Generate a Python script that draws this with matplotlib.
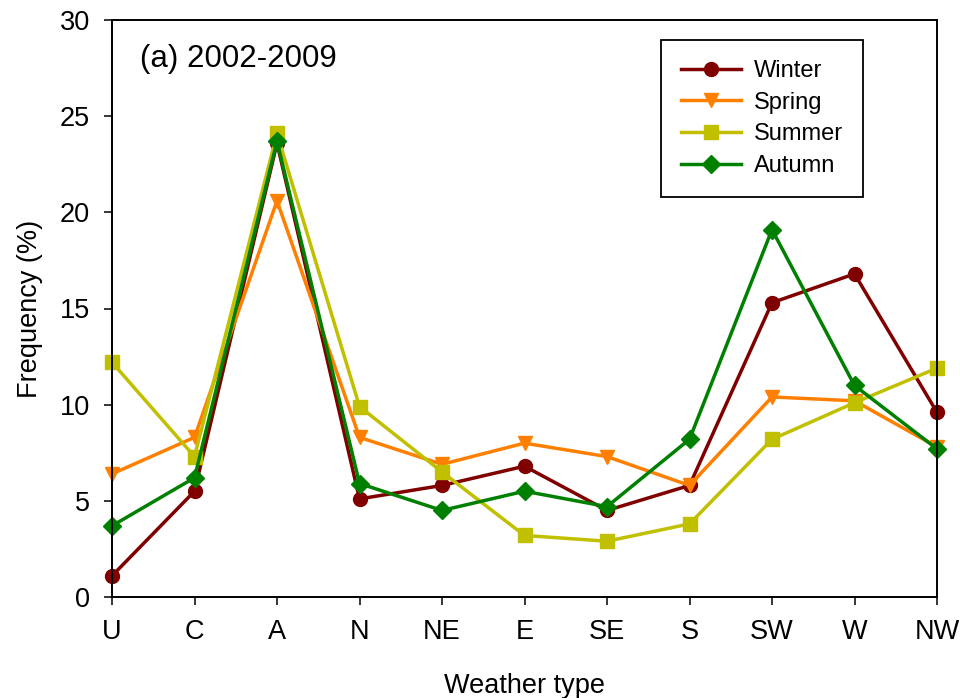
import numpy as np
import matplotlib
matplotlib.use("Agg")
import matplotlib.pyplot as plt

plt.rcParams['font.family'] = ['Liberation Sans', 'DejaVu Sans']

types = ["U", "C", "A", "N", "NE", "E", "SE", "S", "SW", "W", "NW"]
winter = [1.1, 5.5, 23.6, 5.1, 5.8, 6.8, 4.5, 5.8, 15.3, 16.8, 9.6]
spring = [6.4, 8.3, 20.6, 8.3, 6.9, 8.0, 7.3, 5.8, 10.4, 10.2, 7.8]
summer = [12.2, 7.3, 24.1, 9.9, 6.5, 3.2, 2.9, 3.8, 8.2, 10.1, 11.9]
autumn = [3.7, 6.2, 23.7, 5.9, 4.5, 5.5, 4.7, 8.2, 19.1, 11.0, 7.7]

seasons = ["Winter", "Spring", "Summer", "Autumn"]
colors = ["#800000", "#FF8000", "#C0C000", "#008000"]
markers = ["o", "v", "s", "D"]
msizes = [10, 10.5, 9.5, 9.5]

fig = plt.figure(figsize=(9.6, 6.98), dpi=100)
ax = fig.add_axes([112/960, 1-597/698, 825/960, 577/698])

x = np.arange(len(types))
for vals, name, c, m, ms in zip([winter, spring, summer, autumn], seasons, colors, markers, msizes):
    ax.plot(x, vals, color=c, marker=m, markersize=ms, linewidth=2.5,
            label=name, clip_on=False)

ax.set_xlim(0, len(types) - 1)
ax.set_ylim(0, 30)
ax.set_xticks(x)
ax.set_xticklabels(types)
ax.set_yticks(range(0, 31, 5))
ax.tick_params(direction='out', length=6, width=1.1, labelsize=19.5, pad=10)
for s in ax.spines.values():
    s.set_linewidth(1.4)

ax.set_xlabel("Weather type", fontsize=19.5, labelpad=20)
ax.set_ylabel("Frequency (%)", fontsize=19.5, labelpad=12)

ax.text(0.034, 0.932, "(a) 2002-2009", transform=ax.transAxes,
        fontsize=22.5, va='center', ha='left')

leg = ax.legend(loc='upper left', bbox_to_anchor=(661/960, 1-40/698),
                bbox_transform=fig.transFigure, borderaxespad=0,
                fontsize=17, fancybox=False, edgecolor='black',
                handlelength=2.55, handletextpad=0.55, labelspacing=0.41,
                borderpad=0.85, framealpha=1)
leg.get_frame().set_linewidth(1.3)

fig.savefig("out.png", dpi=100)
